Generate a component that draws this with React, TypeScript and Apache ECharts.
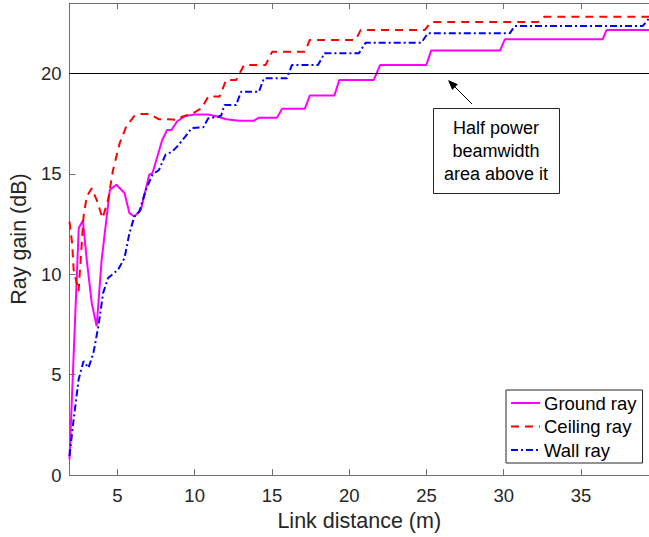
import React, { useEffect, useRef } from "react";
import * as echarts from "echarts";

const xTicks = [5, 10, 15, 20, 25, 30, 35];
const yTicks = [0, 5, 10, 15, 20];

const groundX = [1.9, 2.5, 2.77, 3.02, 3.34, 3.66, 3.98, 4.51, 4.93, 5.46, 5.78, 6.1, 6.52, 7.06, 7.27, 7.9, 8.22, 8.5, 8.86, 9.39, 10.0, 10.87, 11.51, 12.04, 12.89, 13.84, 14.16, 15.33, 15.65, 17.13, 17.45, 19.04, 19.36, 21.59, 22.0, 24.99, 25.3, 29.76, 30.07, 36.4, 36.65, 39.4];
const groundY = [0.78, 12.3, 12.67, 10.7, 8.57, 7.41, 10.7, 14.19, 14.45, 14.04, 13.04, 12.87, 13.2, 14.95, 15.03, 16.68, 17.18, 17.18, 17.6, 17.88, 17.95, 17.95, 17.84, 17.71, 17.64, 17.64, 17.79, 17.79, 18.23, 18.23, 18.89, 18.89, 19.67, 19.67, 20.41, 20.41, 21.13, 21.13, 21.69, 21.69, 22.15, 22.15];

const ceilingX = [1.9, 2.07, 2.17, 2.49, 2.81, 3.02, 3.34, 3.66, 4.04, 4.4, 4.72, 5.15, 5.57, 6.1, 6.42, 7.06, 7.69, 8.33, 8.86, 9.18, 9.81, 10.45, 10.88, 11.61, 12.04, 12.68, 13.2, 14.59, 15.01, 17.13, 17.45, 20.42, 20.74, 24.88, 25.3, 32.2, 32.62, 39.4];
const ceilingY = [12.62, 11.55, 10.22, 9.15, 12.87, 13.87, 14.28, 13.7, 12.79, 13.7, 15.19, 16.52, 17.35, 17.88, 17.98, 17.98, 17.71, 17.71, 17.68, 17.84, 17.98, 18.26, 18.84, 18.84, 19.67, 19.67, 20.41, 20.41, 21.07, 21.07, 21.66, 21.66, 22.15, 22.15, 22.55, 22.55, 22.81, 22.81];

const wallX = [1.9, 2.17, 2.49, 2.81, 3.13, 3.45, 3.77, 4.08, 4.4, 5.04, 5.46, 5.78, 6.1, 6.42, 6.84, 7.27, 7.69, 8.11, 8.54, 8.97, 9.39, 9.81, 10.56, 10.88, 11.51, 11.72, 11.93, 12.68, 13.0, 14.16, 14.48, 15.97, 16.29, 17.98, 18.4, 20.63, 21.06, 24.66, 25.09, 30.39, 30.71, 38.99, 39.4];
const wallY = [0.95, 2.77, 4.76, 5.67, 5.34, 6.08, 7.41, 9.07, 9.81, 10.22, 10.8, 12.05, 12.87, 13.12, 14.2, 14.95, 15.19, 15.94, 16.1, 16.44, 16.85, 17.27, 17.32, 17.76, 17.84, 17.9, 18.42, 18.42, 19.08, 19.08, 19.75, 19.75, 20.41, 20.41, 21.0, 21.0, 21.52, 21.52, 21.99, 21.99, 22.35, 22.35, 22.73];

const seriesNames = ["Ground ray", "Ceiling ray", "Wall ray"];
const halfPowerLevel = 20;
const noteText = "Half power\nbeamwidth\narea above it";

const FONT = "'Liberation Sans', Arial, Helvetica, sans-serif";

function pairs(xs: number[], ys: number[]) {
  return xs.map((x, i) => [x, ys[i]]);
}

export default function App() {
  const ref = useRef<HTMLDivElement>(null);
  useEffect(() => {
    if (!ref.current) return;
    const chart = echarts.init(ref.current, undefined, { renderer: "svg" });
    const axisLineColor = "#707070";
    const labelColor = "#262626";
    const option: any = {
      animation: false,
      backgroundColor: "#fff",
      textStyle: { fontFamily: FONT },
      grid: { left: 61, top: 3, right: 0, bottom: 61, containLabel: false },
      xAxis: [
        {
          type: "value",
          min: 1.9,
          max: 39.4,
          name: "Link distance (m)",
          nameLocation: "middle",
          nameGap: 34,
          nameTextStyle: { fontSize: 21.5, color: labelColor, fontFamily: FONT },
          axisLine: { show: true, onZero: false, lineStyle: { color: axisLineColor, width: 1 } },
          axisTick: { show: true, inside: true, length: 6, customValues: xTicks, lineStyle: { color: axisLineColor } },
          axisLabel: { show: true, customValues: xTicks, fontSize: 18.5, color: labelColor, margin: 11, fontFamily: FONT },
          splitLine: { show: false },
        },
        {
          type: "value",
          position: "top",
          min: 1.9,
          max: 39.4,
          axisLine: { show: true, onZero: false, lineStyle: { color: axisLineColor, width: 1 } },
          axisTick: { show: true, inside: true, length: 6, customValues: xTicks, lineStyle: { color: axisLineColor } },
          axisLabel: { show: false },
          splitLine: { show: false },
        },
      ],
      yAxis: {
        type: "value",
        min: 0,
        max: 23.5,
        name: "Ray gain (dB)",
        nameLocation: "middle",
        nameGap: 34,
        nameTextStyle: { fontSize: 21.5, color: labelColor, fontFamily: FONT },
        axisLine: { show: true, onZero: false, lineStyle: { color: axisLineColor, width: 1 } },
        axisTick: { show: true, inside: true, length: 6, customValues: yTicks, lineStyle: { color: axisLineColor } },
        axisLabel: { show: true, customValues: yTicks, fontSize: 18.5, color: labelColor, margin: 8, fontFamily: FONT },
        splitLine: { show: false },
      },
      legend: {
        data: seriesNames,
        orient: "vertical",
        left: 506,
        top: 390,
        backgroundColor: "#fff",
        borderColor: "#262626",
        borderWidth: 1,
        borderRadius: 0,
        padding: [3, 6, 3, 4],
        itemWidth: 29,
        itemHeight: 10,
        itemGap: 3.5,
        itemStyle: { opacity: 0 },
        textStyle: { fontSize: 18.5, color: "#000", fontFamily: FONT, lineHeight: 20, padding: [0, 0, 0, -1] },
      },
      series: [
        {
          name: seriesNames[0],
          type: "line",
          data: pairs(groundX, groundY),
          showSymbol: false,
          symbol: "none",
          lineStyle: { color: "#ff00ff", width: 2 },
          itemStyle: { color: "#ff00ff" },
          z: 3,
          markLine: {
            silent: true,
            symbol: ["none", "none"],
            label: { show: false },
            lineStyle: { color: "#000", width: 1.1, type: "solid" },
            data: [{ yAxis: halfPowerLevel }],
          },
        },
        {
          name: seriesNames[1],
          type: "line",
          data: pairs(ceilingX, ceilingY),
          showSymbol: false,
          symbol: "none",
          lineStyle: { color: "#ff0000", width: 2, type: [8, 6] },
          itemStyle: { color: "#ff0000" },
          z: 4,
        },
        {
          name: seriesNames[2],
          type: "line",
          data: pairs(wallX, wallY),
          showSymbol: false,
          symbol: "none",
          lineStyle: { color: "#0000ff", width: 2, type: [7, 3, 2, 3] },
          itemStyle: { color: "#0000ff" },
          z: 5,
        },
      ],
      graphic: [
        {
          type: "rect",
          shape: { x: 433.5, y: 108.5, width: 126, height: 85 },
          style: { fill: "#fff", stroke: "#262626", lineWidth: 1 },
          z: 10,
        },
        {
          type: "text",
          x: 496,
          y: 151,
          style: {
            text: noteText,
            fill: "#000",
            font: `18px ${FONT}`,
            lineHeight: 23,
            align: "center",
            verticalAlign: "middle",
          },
          z: 11,
        },
        {
          type: "line",
          shape: { x1: 472, y1: 104, x2: 452, y2: 84 },
          style: { stroke: "#000", lineWidth: 1 },
          z: 10,
        },
        {
          type: "polygon",
          shape: { points: [[448, 80], [457.9, 84.2], [452.2, 89.9]] },
          style: { fill: "#000" },
          z: 10,
        },
      ],
    };
    chart.setOption(option);
    return () => chart.dispose();
  }, []);
  return (
    <div
      ref={ref}
      style={{ position: "fixed", left: 0, top: 0, width: 649, height: 537, background: "#fff" }}
    />
  );
}
